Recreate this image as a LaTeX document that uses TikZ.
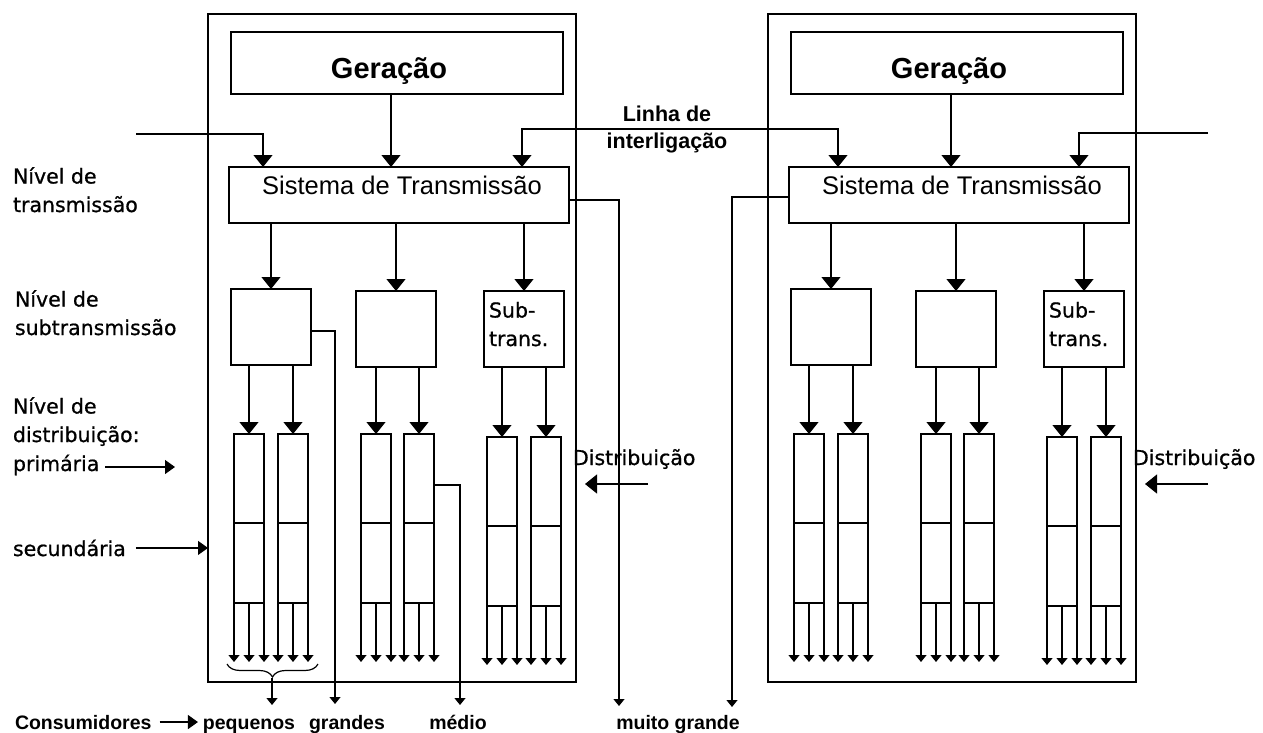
\documentclass[tikz,border=0pt]{standalone}
\usepackage{fontspec}
\setmainfont{Liberation Sans}
\newfontfamily\vfont[FakeBold=0.8]{DejaVu Sans}
\usetikzlibrary{arrows.meta,decorations.pathreplacing}

\begin{document}
\begin{tikzpicture}[x=1pt,y=-1pt,line width=1.2pt,
  box/.style={draw,inner sep=0pt,outer sep=0pt,anchor=north west},
  txt/.style={inner sep=0pt,outer sep=0pt},
  big/.style={-{Triangle[width=19pt,length=12pt]}},
  mid/.style={-{Triangle[width=14pt,length=10pt]}},
  small/.style={-{Triangle[width=11pt,length=7pt]}},
  levelfont/.style={font=\vfont\fontsize{20.5}{28.5}\selectfont},
  bottomfont/.style={font=\bfseries\fontsize{19.5}{22}\selectfont}]

\fill[white] (0,0) rectangle (1263,733);
\useasboundingbox (0,0) rectangle (1263,733);

% two identical power systems, side by side
\foreach \p/\dx in {L/0,R/560}{
  \node[box,minimum width=368pt,minimum height=668pt] (\p-sys) at (208+\dx,14) {};
  \node[box,minimum width=332pt,minimum height=62pt] (\p-gen) at (231+\dx,32) {};
  \node[txt,anchor=base,font=\bfseries\fontsize{29}{32}\selectfont] (\p-gent) at (389+\dx,79) {Geração};
  \node[box,minimum width=340pt,minimum height=56pt] (\p-tr) at (229+\dx,167) {};
  \node[txt,anchor=base,font=\fontsize{25.5}{28}\selectfont] (\p-trt) at (402+\dx,194) {Sistema de Transmissão};
  \node[box,minimum width=80pt,minimum height=76pt] (\p-s1) at (231+\dx,289) {};
  \node[box,minimum width=80pt,minimum height=76pt] (\p-s2) at (356+\dx,291) {};
  \node[box,minimum width=80pt,minimum height=76pt] (\p-s3) at (484+\dx,291) {};
  \node[txt,anchor=base west,align=left,levelfont] (\p-s3t) at (489+\dx,346) {Sub-\\trans.};
  \draw[big] ([xshift=-6pt]\p-gen.south) -- ([xshift=-6pt]\p-gen.south |- \p-tr.north);
  \foreach \s in {1,2,3}
    \draw[big] (\p-s\s.north |- \p-tr.south) -- (\p-s\s.north);
  % distribution feeders: primary (top) and secondary (bottom) sections
  \foreach \c/\cx/\cy/\s in {1/234/434/1,2/278/434/1,3/361/434/2,4/404/434/2,5/487/437/3,6/531/437/3}{
    \node[box,minimum width=30pt,minimum height=169pt] (\p-c\c) at (\cx+\dx,\cy) {};
    \draw ([yshift=-89pt]\p-c\c.north west) -- ([yshift=-89pt]\p-c\c.north east);
    \draw[big] (\p-c\c.north |- \p-s\s.south) -- (\p-c\c.north);
    \foreach \a in {south west,south,south east}
      \draw[small] (\p-c\c.\a) -- ++(0,59);
  }
}

% lines entering the transmission systems
\coordinate (extL) at (136,134);
\draw[big] (extL) -| ([xshift=34pt]L-tr.north west);
\coordinate (extR) at (1208,133);
\draw[big] (extR) -| ([xshift=-50pt]R-tr.north east);

% tie line between the two systems
\coordinate (linkL) at (522,129);
\coordinate (linkR) at (838,129);
\draw[{Triangle[width=19pt,length=12pt]}-{Triangle[width=19pt,length=12pt]}]
  (linkL |- L-tr.north) -- (linkL) -- (linkR) -- (linkR |- R-tr.north);
\node[txt,anchor=base,align=center,font=\bfseries\fontsize{21.5}{27}\selectfont] (link) at (667,148) {Linha de\\interligação};

% very large consumers fed from transmission
\coordinate (mgL) at (619,706);
\draw[small] ([yshift=-5pt]L-tr.east) -| (mgL);
\coordinate (mgR) at (732,707);
\draw[small] ([yshift=-2pt]R-tr.west) -| (mgR);

% large and medium consumers
\coordinate (gr) at (335,704);
\draw[small] ([yshift=-4pt]L-s1.east) -| (gr);
\coordinate (md) at (460,705);
\draw[small] ([yshift=-51pt]L-c4.north east) -| (md);

% small consumers grouped by a brace
\coordinate (brR) at (318,664);
\coordinate (brL) at (227,664);
\draw[decorate,decoration={brace,amplitude=13pt}] (brR) -- (brL);
\coordinate (brTip) at (272,678);
\coordinate (peqTip) at (272,705);
\draw[small] (brTip) -- (peqTip);

% consumer labels
\node[txt,anchor=base west,bottomfont] (cons) at (15,729) {Consumidores};
\node[txt,anchor=base,bottomfont] (peq) at (249,729) {pequenos};
\node[txt,anchor=base,bottomfont] (gra) at (347,729) {grandes};
\node[txt,anchor=base,bottomfont] (med) at (458,729) {médio};
\node[txt,anchor=base,bottomfont] (mg) at (678,729) {muito grande};
\draw[mid] ([xshift=8pt]cons.east) -- ([xshift=-5pt]cons.east -| peq.west);

% level labels
\node[txt,anchor=base west,align=left,levelfont] (lvT) at (13,212) {Nível de\\transmissão};
\node[txt,anchor=base west,align=left,levelfont] (lvS) at (15,335) {Nível de\\subtransmissão};
\node[txt,anchor=base west,align=left,levelfont] (lvD) at (13,442) {Nível de\\distribuição:};
\node[txt,anchor=base west,levelfont] (prim) at (13,471) {primária};
\node[txt,anchor=base west,levelfont] (sec) at (13,556) {secundária};
\coordinate (primTip) at (175,467);
\draw[mid] ([xshift=6pt]prim.east |- primTip) -- (primTip);
\draw[mid] ([xshift=10pt]sec.east) -- (sec.east -| L-sys.west);

% distribution labels
\node[txt,anchor=base west,levelfont] (distL) at (573,465) {Distribuição};
\coordinate (dLa) at (648,484);
\coordinate (dLb) at (585,484);
\draw[big] (dLa) -- (dLb);
\node[txt,anchor=base west,levelfont] (distR) at (1133,465) {Distribuição};
\coordinate (dRa) at (1208,484);
\coordinate (dRb) at (1145,484);
\draw[big] (dRa) -- (dRb);
\end{tikzpicture}
\end{document}
